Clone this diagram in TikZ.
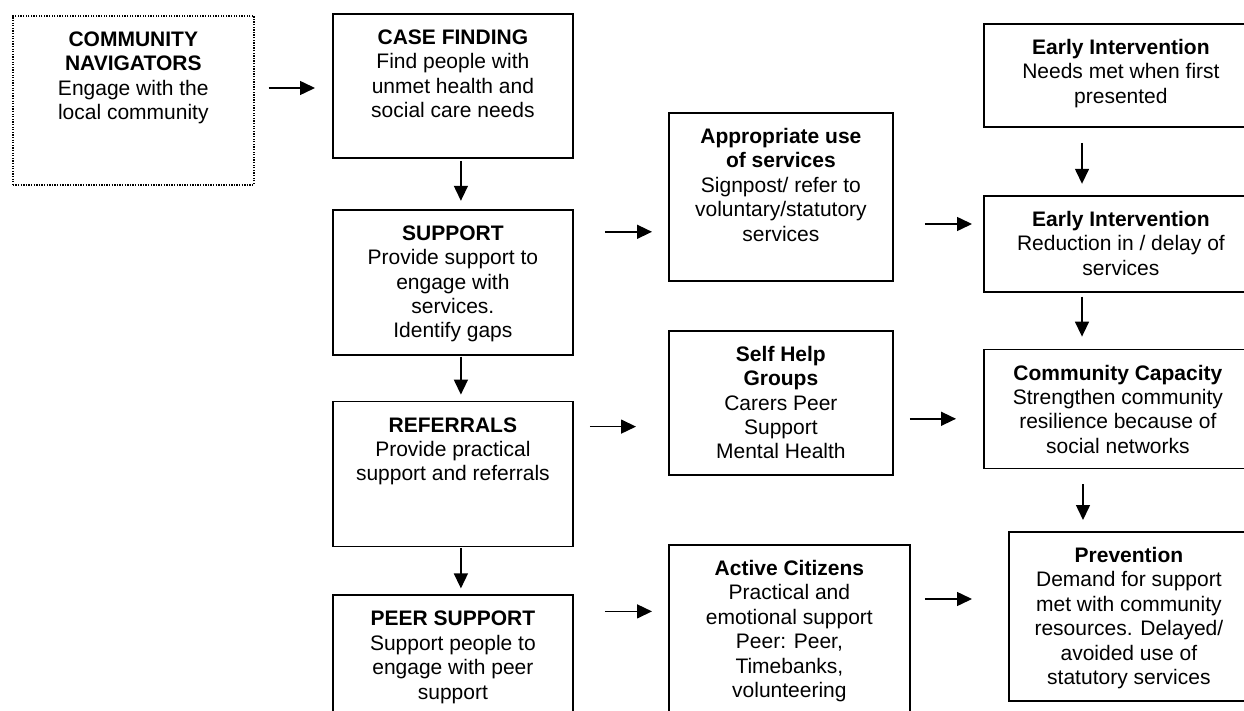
\documentclass[tikz,border=0pt]{standalone}
\usepackage{fontspec}
\setmainfont{Liberation Sans}
\usetikzlibrary{arrows.meta,positioning}

% box contents: width, height, bold heading, text lines
\newcommand{\boxtext}[4]{%
  \parbox[c][#2][t]{#1}{\centering\vspace*{13.5pt}\strut\textbf{#3}\\#4}}

\begin{document}
\begin{tikzpicture}[
    x=1pt, y=-1pt,
    box/.style={rectangle, draw=black, line width=1.8pt, inner sep=0pt, anchor=north west, font=\fontsize{21}{24.4}\selectfont},
    dottedbox/.style={box, line width=1.6pt, dash pattern=on 1.3pt off 1.3pt},
    arrow/.style={-{Triangle[length=15pt,width=14pt]}, line width=1.5pt}
]
    \useasboundingbox (0,0) rectangle (1244,711);

    % Nodes
    \node[dottedbox] (nav) at (12,15) {\boxtext{241pt}{169pt}{COMMUNITY\\NAVIGATORS}{Engage with the\\local community}};
    \node[box] (case) at (332,13) {\boxtext{240pt}{144pt}{CASE FINDING}{Find people with\\unmet health and\\social care needs}};
    \node[box, below=50pt of case] (support) {\boxtext{240pt}{145pt}{SUPPORT}{Provide support to\\engage with\\services.\\Identify gaps}};
    \node[box, below=45pt of support] (referrals) {\boxtext{240pt}{145pt}{REFERRALS}{Provide practical\\support and referrals}};
    \node[box, below=47pt of referrals] (peer) {\boxtext{240pt}{132pt}{PEER SUPPORT}{Support people to\\engage with peer\\support}};

    \node[box] (services) at (668,112) {\boxtext{224pt}{168pt}{Appropriate use\\of services}{Signpost/ refer to\\voluntary/statutory\\services}};
    \node[box, below=48pt of services] (selfhelp) {\boxtext{224pt}{144pt}{Self Help\\Groups}{Carers Peer\\Support\\Mental Health}};
    \node[box] (citizens) at (668,544) {\boxtext{241pt}{176pt}{Active Citizens}{Practical and\\emotional support\\Peer: Peer,\\Timebanks,\\volunteering}};

    \node[box] (early) at (983,23) {\boxtext{274pt}{103pt}{Early Intervention}{Needs met when first\\presented}};
    \node[box, below=67pt of early] (delay) {\boxtext{274pt}{96pt}{Early Intervention}{Reduction in / delay of\\services}};
    \node[box, below=56pt of delay.south west, anchor=north west] (capacity) {\boxtext{268pt}{119pt}{Community Capacity}{Strengthen community\\resilience because of\\social networks}};
    \node[box] (prevention) at (1008,531) {\boxtext{240pt}{169pt}{Prevention}{Demand for support\\met with community\\resources. Delayed/\\avoided use of\\statutory services}};

    % Arrows
    \draw[arrow, shorten <=14pt, shorten >=17pt] ([yshift=-73pt]nav.north east) -- ([yshift=-73pt]nav.north east -| case.west);
    \draw[arrow, shorten <=2pt, shorten >=8pt] ([xshift=8pt]case.south) -- ([xshift=8pt]case.south |- support.north);
    \draw[arrow, shorten <=1pt, shorten >=6pt] ([xshift=8pt]support.south) -- ([xshift=8pt]support.south |- referrals.north);
    \draw[arrow, shorten <=1pt, shorten >=6pt] ([xshift=8pt]referrals.south) -- ([xshift=8pt]referrals.south |- peer.north);

    \draw[arrow, shorten <=31pt, shorten >=16pt] ([yshift=-23pt]support.north east) -- ([yshift=-23pt]support.north east -| services.west);
    \draw[arrow, shorten <=16pt, shorten >=32pt] ([yshift=-26pt]referrals.north east) -- ([yshift=-26pt]referrals.north east -| selfhelp.west);
    \draw[arrow, shorten <=31pt, shorten >=16pt] ([yshift=-17pt]peer.north east) -- ([yshift=-17pt]peer.north east -| citizens.west);

    \draw[arrow, shorten <=31pt, shorten >=11pt] ([yshift=-112pt]services.north east) -- ([yshift=-112pt]services.north east -| delay.west);
    \draw[arrow, shorten <=16pt, shorten >=27pt] ([yshift=-89pt]selfhelp.north east) -- ([yshift=-89pt]selfhelp.north east -| capacity.west);
    \draw[arrow, shorten <=14pt, shorten >=36pt] ([yshift=-55pt]citizens.north east) -- ([yshift=-55pt]citizens.north east -| prevention.west);

    \draw[arrow, shorten <=15pt, shorten >=11pt] ([xshift=99pt]early.south west) -- ([xshift=99pt]early.south west |- delay.north);
    \draw[arrow, shorten <=4pt, shorten >=12pt] ([xshift=99pt]delay.south west) -- ([xshift=99pt]delay.south west |- capacity.north);
    \draw[arrow, shorten <=15pt, shorten >=11pt] ([xshift=100pt]capacity.south west) -- ([xshift=100pt]capacity.south west |- prevention.north);
\end{tikzpicture}
\end{document}
